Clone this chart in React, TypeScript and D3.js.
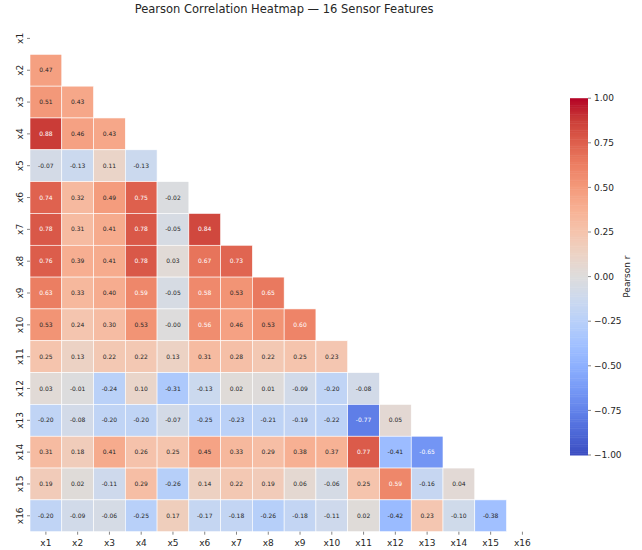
import React from "react";
import * as d3 from "d3";

const labels = ["x1","x2","x3","x4","x5","x6","x7","x8","x9","x10","x11","x12","x13","x14","x15","x16"];

// lower triangle rows (row i has values for columns 0..i-1)
const rowX2 = [0.47];
const rowX3 = [0.51, 0.43];
const rowX4 = [0.88, 0.46, 0.43];
const rowX5 = [-0.07, -0.13, 0.11, -0.13];
const rowX6 = [0.74, 0.32, 0.49, 0.75, -0.02];
const rowX7 = [0.78, 0.31, 0.41, 0.78, -0.05, 0.84];
const rowX8 = [0.76, 0.39, 0.41, 0.78, 0.03, 0.67, 0.73];
const rowX9 = [0.63, 0.33, 0.40, 0.59, -0.05, 0.58, 0.53, 0.65];
const rowX10 = [0.53, 0.24, 0.30, 0.53, -0.001, 0.56, 0.46, 0.53, 0.60];
const rowX11 = [0.25, 0.13, 0.22, 0.22, 0.13, 0.31, 0.28, 0.22, 0.25, 0.23];
const rowX12 = [0.03, -0.01, -0.24, 0.10, -0.31, -0.13, 0.02, 0.01, -0.09, -0.20, -0.08];
const rowX13 = [-0.20, -0.08, -0.20, -0.20, -0.07, -0.25, -0.23, -0.21, -0.19, -0.22, -0.77, 0.05];
const rowX14 = [0.31, 0.18, 0.41, 0.26, 0.25, 0.45, 0.33, 0.29, 0.38, 0.37, 0.77, -0.41, -0.65];
const rowX15 = [0.19, 0.02, -0.11, 0.29, -0.26, 0.14, 0.22, 0.19, 0.06, -0.06, 0.25, 0.59, -0.16, 0.04];
const rowX16 = [-0.20, -0.09, -0.06, -0.25, 0.17, -0.17, -0.18, -0.26, -0.18, -0.11, 0.02, -0.42, 0.23, -0.10, -0.38];

const rows: number[][] = [[], rowX2, rowX3, rowX4, rowX5, rowX6, rowX7, rowX8, rowX9, rowX10, rowX11, rowX12, rowX13, rowX14, rowX15, rowX16];

const cbTicks = [1, 0.75, 0.5, 0.25, 0, -0.25, -0.5, -0.75, -1];

const coolwarmStops = [
  "rgb(59,76,192)", "rgb(77,104,215)", "rgb(98,130,234)", "rgb(119,154,246)",
  "rgb(141,176,254)", "rgb(162,193,255)", "rgb(184,208,249)", "rgb(204,217,238)",
  "rgb(221,220,220)", "rgb(236,211,197)", "rgb(245,196,173)", "rgb(247,177,148)",
  "rgb(244,154,123)", "rgb(236,127,99)", "rgb(222,96,77)", "rgb(203,62,56)", "rgb(180,4,38)"
];

const interp = d3.piecewise(d3.interpolateRgb, coolwarmStops);
const color = (v: number) => interp((v + 1) / 2);

function lum(c: string) {
  const rgb = d3.rgb(c);
  const f = (u: number) => {
    const s = u / 255;
    return s <= 0.03928 ? s / 12.92 : Math.pow((s + 0.055) / 1.055, 2.4);
  };
  return 0.2126 * f(rgb.r) + 0.7152 * f(rgb.g) + 0.0722 * f(rgb.b);
}

const FONT = "DejaVu Sans, sans-serif";

export default function App() {
  const left = 30, right = 538.3, top = 22.5, bottom = 531.7;
  const x = d3.scaleBand<string>().domain(labels).range([left, right]);
  const y = d3.scaleBand<string>().domain(labels).range([top, bottom]);
  const cbTop = 98.2, cbBottom = 455, cbLeft = 570, cbRight = 588;
  const cy = d3.scaleLinear().domain([-1, 1]).range([cbBottom, cbTop]);
  const nSteps = 200;
  const steps = d3.range(nSteps);
  const minus = (v: number) => v.toFixed(2).replace("-", "\u2212");

  const cells: React.ReactNode[] = [];
  rows.forEach((r, i) => {
    r.forEach((v, j) => {
      const c = color(v);
      const tc = lum(c) > 0.408 ? "#262626" : "#ffffff";
      const cx = x(labels[j])!, cyy = y(labels[i])!;
      cells.push(
        <g key={`${i}-${j}`}>
          <rect x={cx} y={cyy} width={x.bandwidth()} height={y.bandwidth()} fill={c} stroke="#ffffff" strokeWidth={0.6} />
          <text x={cx + x.bandwidth() / 2} y={cyy + y.bandwidth() / 2} dy="0.35em" textAnchor="middle" fontSize={6} fill={tc} fontFamily={FONT}>
            {v.toFixed(2)}
          </text>
        </g>
      );
    });
  });

  return (
    <div style={{ position: "absolute", left: 0, top: 0 }}>
      <svg width={642} height={550} style={{ display: "block", background: "#fff" }}>
        <text x={(left + right) / 2} y={13} textAnchor="middle" fontSize={11.5} fill="#262626" fontFamily={FONT}>
          Pearson Correlation Heatmap — 16 Sensor Features
        </text>
        {cells}
        {labels.map((l) => {
          const ty = y(l)! + y.bandwidth() / 2;
          return (
            <g key={"y" + l}>
              <line x1={left - 3} x2={left} y1={ty} y2={ty} stroke="#333" strokeWidth={0.6} />
              <text transform={`translate(${left - 7},${ty}) rotate(-90)`} textAnchor="middle" fontSize={9} fill="#262626" fontFamily={FONT}>
                {l}
              </text>
            </g>
          );
        })}
        {labels.map((l) => {
          const tx = x(l)! + x.bandwidth() / 2;
          return (
            <g key={"x" + l}>
              <line x1={tx} x2={tx} y1={bottom} y2={bottom + 3} stroke="#333" strokeWidth={0.6} />
              <text x={tx} y={bottom + 14} textAnchor="middle" fontSize={9} fill="#262626" fontFamily={FONT}>
                {l}
              </text>
            </g>
          );
        })}
        {steps.map((k) => {
          const v0 = -1 + (2 * k) / nSteps;
          const v1 = -1 + (2 * (k + 1)) / nSteps;
          return (
            <rect key={"cb" + k} x={cbLeft} y={cy(v1)} width={cbRight - cbLeft} height={cy(v0) - cy(v1) + 0.5} fill={color((v0 + v1) / 2)} />
          );
        })}
        {cbTicks.map((t) => (
          <g key={"cbt" + t}>
            <line x1={cbRight} x2={cbRight + 3} y1={cy(t)} y2={cy(t)} stroke="#333" strokeWidth={0.6} />
            <text x={cbRight + 6} y={cy(t)} dy="0.35em" fontSize={9} fill="#262626" fontFamily={FONT}>
              {minus(t)}
            </text>
          </g>
        ))}
        <text transform={`translate(630,${cy(0)}) rotate(-90)`} textAnchor="middle" fontSize={9} fill="#262626" fontFamily={FONT}>
          Pearson r
        </text>
      </svg>
    </div>
  );
}
